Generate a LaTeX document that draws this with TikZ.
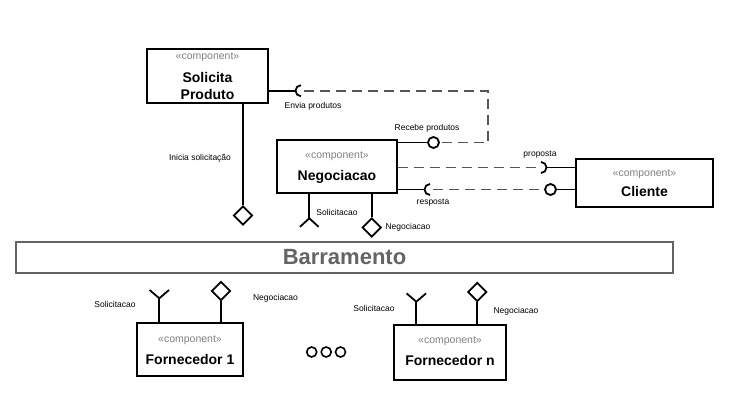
\documentclass[tikz,border=0pt]{standalone}
\usepackage{fontspec}
\setmainfont{Liberation Sans}
\usetikzlibrary{shapes.geometric}
\definecolor{stereo}{RGB}{128,128,128}
\definecolor{dashc}{RGB}{85,85,85}
\definecolor{barc}{RGB}{100,100,100}
\tikzset{
  comp/.style={draw=black, line width=1.8pt, inner sep=0pt},
  stereotxt/.style={text=stereo, font=\fontsize{10.5}{12}\selectfont, inner sep=0pt},
  nametxt/.style={font=\fontsize{14}{16}\selectfont\bfseries, inner sep=0pt},
  lbl/.style={font=\fontsize{8.5}{10}\selectfont, inner sep=0pt},
  wire/.style={line width=1.8pt, black},
  dwire/.style={line width=1.8pt, dashc, dash pattern=on 10pt off 6pt},
  ball/.style={circle, draw=black, line width=1.8pt, minimum size=11pt, inner sep=0pt, fill=white},
  port/.style={diamond, draw=black, line width=1.8pt, minimum width=19pt, minimum height=19pt, inner sep=0pt, fill=white},
  dots/.style={circle, draw=black, line width=1.6pt, minimum size=10pt, inner sep=0pt}
}
\begin{document}
\begin{tikzpicture}[x=1pt,y=-1pt]
\useasboundingbox (0,0) rectangle (754,412);
\fill[white] (0,0) rectangle (754,412);

% boxes
\node[comp, minimum width=121pt, minimum height=54pt] (sp) at (207.5,76) {};
\node[comp, minimum width=120pt, minimum height=53pt] (neg) at (337,166.5) {};
\node[comp, minimum width=137pt, minimum height=48pt] (cli) at (644.5,183) {};
\node[comp, minimum width=106pt, minimum height=53pt] (f1) at (190,349.5) {};
\node[comp, minimum width=112pt, minimum height=55pt] (fn) at (450,352.5) {};
\node[draw=barc, line width=1.3pt, minimum width=657pt, minimum height=31pt, inner sep=0pt,
      text=barc, font=\fontsize{22}{24}\selectfont\bfseries] (bar) at (344.5,257.5) {Barramento};

% box texts
\node[stereotxt] (spst) at (207.5,57) {«component»};
\node[nametxt] (spn1) at (207.5,77) {Solicita};
\node[nametxt] (spn2) at (207.5,94) {Produto};
\node[stereotxt] (negst) at (337,156) {«component»};
\node[nametxt] (negn) at (337,176.5) {Negociacao};
\node[stereotxt] (clist) at (644.5,174) {«component»};
\node[nametxt] (clin) at (644.5,191.5) {Cliente};
\node[stereotxt] (f1st) at (190,340.5) {«component»};
\node[nametxt] (f1n) at (190,359.5) {Fornecedor 1};
\node[stereotxt] (fnst) at (450,341.5) {«component»};
\node[nametxt] (fnn) at (450,360) {Fornecedor n};

% Envia produtos / Recebe produtos
\coordinate (s1) at (301,90.7);
\node[ball] (b1) at (433.5,142.5) {};
\coordinate (c1) at (488,90.7);
\draw[wire] (sp.east |- s1) -- ([xshift=-5.5pt]s1);
\draw[wire] (s1) ++(90:5.5pt) arc[start angle=90, end angle=270, radius=5.5pt];
\draw[dwire] ([xshift=3pt]s1) -- (c1) -- (c1 |- b1) -- (b1.east);
\draw[wire] (neg.east |- b1) -- (b1.west);

% proposta
\coordinate (s2) at (541,167.5);
\draw[dwire] (neg.east |- s2) -- ([xshift=-4pt]s2);
\draw[wire] (s2) ++(-90:5.5pt) arc[start angle=-90, end angle=90, radius=5.5pt];
\draw[wire] ([xshift=5.5pt]s2) -- (cli.west |- s2);

% resposta
\coordinate (s3) at (430,189.5);
\node[ball] (b2) at (550.5,189.5) {};
\draw[wire] (neg.east |- s3) -- ([xshift=-5.5pt]s3);
\draw[wire] (s3) ++(90:5.5pt) arc[start angle=90, end angle=270, radius=5.5pt];
\draw[dwire] ([xshift=3pt]s3) -- (b2.west);
\draw[wire] (b2.east) -- (cli.west |- b2);

% Solicita bottom port
\node[port] (d0) at (243,215.5) {};
\draw[wire] (d0.north |- sp.south) -- (d0.north);

% Negociacao bottom ports
\coordinate (y1) at (309.3,218.3);
\draw[wire] (y1 |- neg.south) -- (y1);
\draw[wire] ([shift={(-9.3,8.5)}]y1) -- (y1) -- ([shift={(9.3,8.5)}]y1);
\node[port] (d1) at (371.7,227.5) {};
\draw[wire] (d1.north |- neg.south) -- (d1.north);

% Fornecedor 1 ports
\coordinate (y2) at (159.3,298.3);
\draw[wire] (y2 |- f1.north) -- (y2);
\draw[wire] ([shift={(-9.7,-8.3)}]y2) -- (y2) -- ([shift={(9.7,-8.3)}]y2);
\node[port] (d2) at (221,291) {};
\draw[wire] (d2.south |- f1.north) -- (d2.south);

% Fornecedor n ports
\coordinate (y3) at (416.3,301.7);
\draw[wire] (y3 |- fn.north) -- (y3);
\draw[wire] ([shift={(-9.7,-8.3)}]y3) -- (y3) -- ([shift={(9.7,-8.3)}]y3);
\node[port] (d3) at (477.3,292) {};
\draw[wire] (d3.south |- fn.north) -- (d3.south);

% ellipsis
\node[dots] (e1) at (311.7,352) {};
\node[dots] (e2) at (326.2,352) {};
\node[dots] (e3) at (340.5,352) {};

% labels
\node[lbl] (l1) at (313,106) {Envia produtos};
\node[lbl] (l2) at (427,128) {Recebe produtos};
\node[lbl] (l3) at (200,158) {Inicia solicitação};
\node[lbl] (l4) at (540,155) {proposta};
\node[lbl] (l5) at (433,203) {resposta};
\node[lbl] (l6) at (337,212) {Solicitacao};
\node[lbl] (l7) at (408,227) {Negociacao};
\node[lbl] (l8) at (115,304.5) {Solicitacao};
\node[lbl] (l9) at (275.5,298) {Negociacao};
\node[lbl] (l10) at (374,308.5) {Solicitacao};
\node[lbl] (l11) at (516,311.5) {Negociacao};
\end{tikzpicture}
\end{document}
